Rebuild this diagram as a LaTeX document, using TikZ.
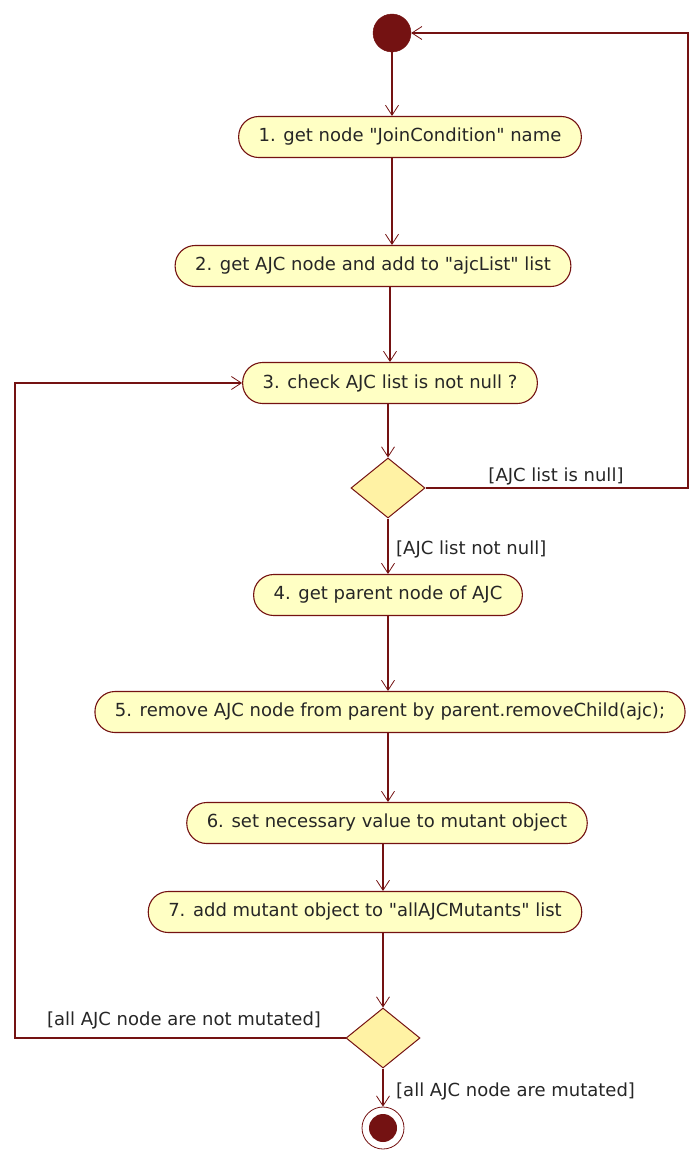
\documentclass[tikz,border=0pt]{standalone}
\usepackage{fontspec}
\setmainfont{DejaVu Sans}
\usetikzlibrary{arrows.meta,shapes.geometric,calc}

\definecolor{umlred}{HTML}{741212}
\definecolor{actfill}{HTML}{FFFFC4}
\definecolor{decfill}{HTML}{FFF2A4}

\begin{document}
\begin{tikzpicture}[x=1pt,y=-1pt,
    every node/.style={font=\fontsize{18}{20}\selectfont,text=black!85},
    action/.style={draw=umlred,fill=actfill,line width=1.1pt,rounded corners=20pt,minimum height=41pt,inner xsep=20pt},
    decision/.style={diamond,draw=umlred,fill=decfill,line width=1pt,minimum width=74pt,minimum height=60pt,inner sep=0pt},
    flow/.style={umlred,line width=1.3pt,-{Straight Barb[length=10pt,width=13pt,line width=0.8pt]}},
    guard/.style={inner sep=0pt}]
    \path[use as bounding box] (0,0) rectangle (697,1153);

    % start and end
    \node[circle,draw=umlred,fill=umlred,minimum size=38pt,inner sep=0pt] (start) at (392,33) {};
    \node[circle,draw=umlred,fill=white,line width=0.8pt,minimum size=42pt,inner sep=0pt] (stop) at (383,1128) {};
    \node[circle,fill=umlred,minimum size=28pt,inner sep=0pt] (stopdot) at (stop) {};

    % actions
    \foreach \n/\x/\y/\txt in {
        n1/410/137/{1. get node \textquotedbl JoinCondition\textquotedbl{} name},
        n2/373/266/{2. get AJC node and add to \textquotedbl ajcList\textquotedbl{} list},
        n3/390/383/{3. check AJC list is not null ?},
        n4/388/595/{4. get parent node of AJC},
        n5/390/712/{5. remove AJC node from parent by parent.removeChild(ajc);},
        n6/387/823/{6. set necessary value to mutant object},
        n7/365/912/{7. add mutant object to \textquotedbl allAJCMutants\textquotedbl{} list}} {
        \node[action] (\n) at (\x,\y) {\txt};
    }

    % decisions
    \node[decision] (d1) at (388,488) {};
    \node[decision] (d2) at (383,1038) {};

    \coordinate (rr) at (688,0);
    \coordinate (ll) at (15,0);

    % flows
    \draw[flow] (start) -- (start |- n1.north);
    \draw[flow] (n1.south -| start) -- (n2.north -| start);
    \draw[flow] (n2.south -| n3) -- (n3.north);
    \draw[flow] (n3.south -| d1) -- (d1.north);
    \draw[flow] (d1.south) -- (d1.south |- n4.north);
    \foreach \a/\b in {n4/n5,n5/n6} {
        \draw[flow] (\a.south -| d1) -- (\b.north -| d1);
    }
    \draw[flow] (n6.south -| d2) -- (n7.north -| d2);
    \draw[flow] (n7.south -| d2) -- (d2.north);
    \draw[flow] (d2.south) -- (stop.north);

    % loops back
    \draw[flow] (d1.east) -| (rr |- start) -- (start.east);
    \draw[flow] (d2.west) -| (ll |- n3) -- (n3.west);

    % guards
    \node[guard] (gnull) at (556,476) {[AJC list is null]};
    \node[guard,anchor=west] (gnotnull) at (396,549) {[AJC list not null]};
    \node[guard] (gnotmut) at (184,1020) {[all AJC node are not mutated]};
    \node[guard,anchor=west] (gmut) at (396,1091) {[all AJC node are mutated]};
\end{tikzpicture}
\end{document}
